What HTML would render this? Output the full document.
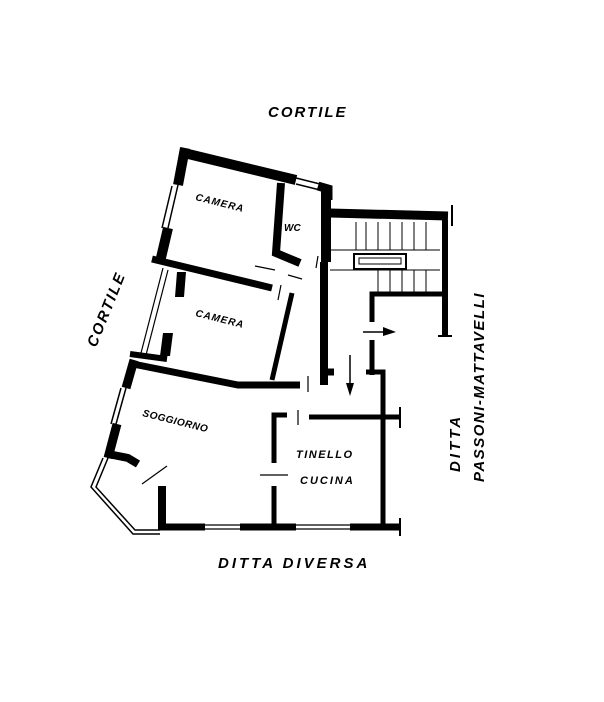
<!DOCTYPE html>
<html><head><style>
html,body{margin:0;padding:0;background:#fff;}
svg{display:block}
text{font-family:"Liberation Sans",sans-serif;font-style:italic;font-weight:bold;fill:#000}
</style></head><body>
<svg width="604" height="702" viewBox="0 0 604 702" xmlns="http://www.w3.org/2000/svg">
<g stroke="#000" fill="none" stroke-linecap="butt" stroke-linejoin="miter">
<!-- top wall -->
<polyline points="180,152 296,180" stroke-width="10"/>
<line x1="296" y1="178" x2="320" y2="184" stroke-width="1.5"/>
<line x1="296" y1="184" x2="320" y2="190" stroke-width="1.5"/>
<polyline points="318,186 328,189 328,200" stroke-width="9"/>
<!-- right wall -->
<line x1="326" y1="190" x2="326" y2="262" stroke-width="10"/>
<line x1="324" y1="262" x2="324" y2="385" stroke-width="8"/>
<line x1="324" y1="372" x2="334" y2="372" stroke-width="7"/>
<!-- top-left wall -->
<line x1="185" y1="148" x2="178" y2="185" stroke-width="10"/>
<line x1="178" y1="185" x2="168" y2="228" stroke-width="1.5"/>
<line x1="172" y1="186" x2="162" y2="228" stroke-width="1.5"/>
<line x1="168" y1="228" x2="160" y2="262" stroke-width="10"/>
<!-- WC walls -->
<polyline points="281,183 276,253 300,263" stroke-width="8"/>
<line x1="318" y1="256" x2="316" y2="268" stroke-width="1.2"/>
<!-- camera divider -->
<polyline points="152,259 272,288" stroke-width="7"/>
<line x1="255" y1="266" x2="275" y2="270" stroke-width="1.2"/>
<line x1="288" y1="275" x2="302" y2="279" stroke-width="1.2"/>
<line x1="281" y1="285" x2="278" y2="300" stroke-width="1.2"/>
<line x1="292" y1="293" x2="272" y2="380" stroke-width="5"/>
<!-- camera 2 left blocks -->
<polygon points="177,272 186,272 184,297 175,297" fill="#000" stroke="none"/>
<polygon points="163,333 173,333 170,356 160,356" fill="#000" stroke="none"/>
<line x1="163" y1="268" x2="141" y2="353" stroke-width="1.2"/>
<line x1="168" y1="270" x2="146" y2="355" stroke-width="1.2"/>
<!-- camera2/soggiorno -->
<polyline points="130,354 167,359" stroke-width="6"/>
<polyline points="133,364 238,385 300,385" stroke-width="7"/>
<line x1="308" y1="376" x2="308" y2="392" stroke-width="1.2"/>
<!-- soggiorno left wall -->
<line x1="134" y1="360" x2="126" y2="388" stroke-width="9"/>
<line x1="126" y1="388" x2="116" y2="424" stroke-width="1.5"/>
<line x1="121" y1="388" x2="111" y2="424" stroke-width="1.5"/>
<line x1="117" y1="424" x2="108" y2="458" stroke-width="9"/>
<polyline points="108,454 128,458 138,464" stroke-width="8"/>
<line x1="142" y1="484" x2="167" y2="466" stroke-width="1.2"/>
<!-- bay -->
<polyline points="108,458 96,487 135,530 160,530" stroke-width="1.5"/>
<polyline points="103,458 91,487 133,534 160,534" stroke-width="1.5"/>
<!-- bottom wall -->
<line x1="162" y1="486" x2="162" y2="530" stroke-width="8"/>
<line x1="158" y1="527" x2="205" y2="527" stroke-width="7"/>
<line x1="205" y1="525" x2="240" y2="525" stroke-width="1.3"/>
<line x1="205" y1="529" x2="240" y2="529" stroke-width="1.3"/>
<line x1="240" y1="527" x2="296" y2="527" stroke-width="7"/>
<line x1="296" y1="525" x2="350" y2="525" stroke-width="1.3"/>
<line x1="296" y1="529" x2="350" y2="529" stroke-width="1.3"/>
<line x1="350" y1="527" x2="400" y2="527" stroke-width="7"/>
<line x1="400" y1="518" x2="400" y2="536" stroke-width="2"/>
<!-- soggiorno/tinello -->
<polyline points="287,415 274,415 274,463" stroke-width="5"/>
<line x1="274" y1="486" x2="274" y2="528" stroke-width="5"/>
<line x1="260" y1="475" x2="288" y2="475" stroke-width="1.2"/>
<line x1="298" y1="410" x2="298" y2="425" stroke-width="1.2"/>
<!-- tinello top -->
<line x1="309" y1="417" x2="400" y2="417" stroke-width="5"/>
<line x1="400" y1="407" x2="400" y2="428" stroke-width="2"/>
<!-- tinello right -->
<polyline points="366,372 383,372 383,527" stroke-width="5"/>
<line x1="372" y1="340" x2="372" y2="375" stroke-width="5"/>
<!-- stair -->
<polyline points="330,213 448,216" stroke-width="9"/>
<line x1="452" y1="205" x2="452" y2="226" stroke-width="2"/>
<line x1="445" y1="220" x2="445" y2="336" stroke-width="6"/>
<line x1="438" y1="336" x2="452" y2="336" stroke-width="2"/>
<polyline points="372,322 372,294 444,294" stroke-width="5"/>
<rect x="354" y="254" width="52" height="15" stroke-width="2"/>
<rect x="359" y="258" width="42" height="6" stroke-width="1"/>
<line x1="330" y1="250" x2="440" y2="250" stroke-width="1"/>
<line x1="330" y1="270" x2="440" y2="270" stroke-width="1"/>
<g stroke-width="1">
<line x1="356" y1="222" x2="356" y2="250"/><line x1="366" y1="222" x2="366" y2="250"/>
<line x1="378" y1="222" x2="378" y2="250"/><line x1="390" y1="222" x2="390" y2="250"/>
<line x1="402" y1="222" x2="402" y2="250"/><line x1="414" y1="222" x2="414" y2="250"/>
<line x1="426" y1="222" x2="426" y2="250"/>
<line x1="378" y1="270" x2="378" y2="292"/><line x1="390" y1="270" x2="390" y2="292"/>
<line x1="402" y1="270" x2="402" y2="292"/><line x1="414" y1="270" x2="414" y2="292"/>
<line x1="426" y1="270" x2="426" y2="292"/>
</g>
<!-- arrows -->
<line x1="363" y1="332" x2="385" y2="332" stroke-width="1.5"/>
<line x1="350" y1="355" x2="350" y2="385" stroke-width="1.5"/>
</g>
<polygon points="383,327 396,332 383,336" fill="#000"/>
<polygon points="346,383 350,396 354,383" fill="#000"/>

<text x="268" y="117" font-size="15" letter-spacing="2">CORTILE</text>
<text transform="translate(96,348) rotate(-68)" font-size="15" letter-spacing="2">CORTILE</text>
<text x="218" y="568" font-size="15" letter-spacing="3">DITTA DIVERSA</text>
<text transform="translate(460,472) rotate(-90)" font-size="15" letter-spacing="3">DITTA</text>
<text transform="translate(484,482) rotate(-90)" font-size="15" letter-spacing="1.5">PASSONI-MATTAVELLI</text>
<text transform="translate(195,200) rotate(14)" font-size="10" letter-spacing="1">CAMERA</text>
<text x="284" y="231" font-size="10">WC</text>
<text transform="translate(195,316) rotate(14)" font-size="10" letter-spacing="1">CAMERA</text>
<text transform="translate(142,416) rotate(14)" font-size="10" letter-spacing="0.5">SOGGIORNO</text>
<text x="296" y="458" font-size="11" letter-spacing="1.5">TINELLO</text>
<text x="300" y="484" font-size="11" letter-spacing="2">CUCINA</text>
</svg>
</body></html>
